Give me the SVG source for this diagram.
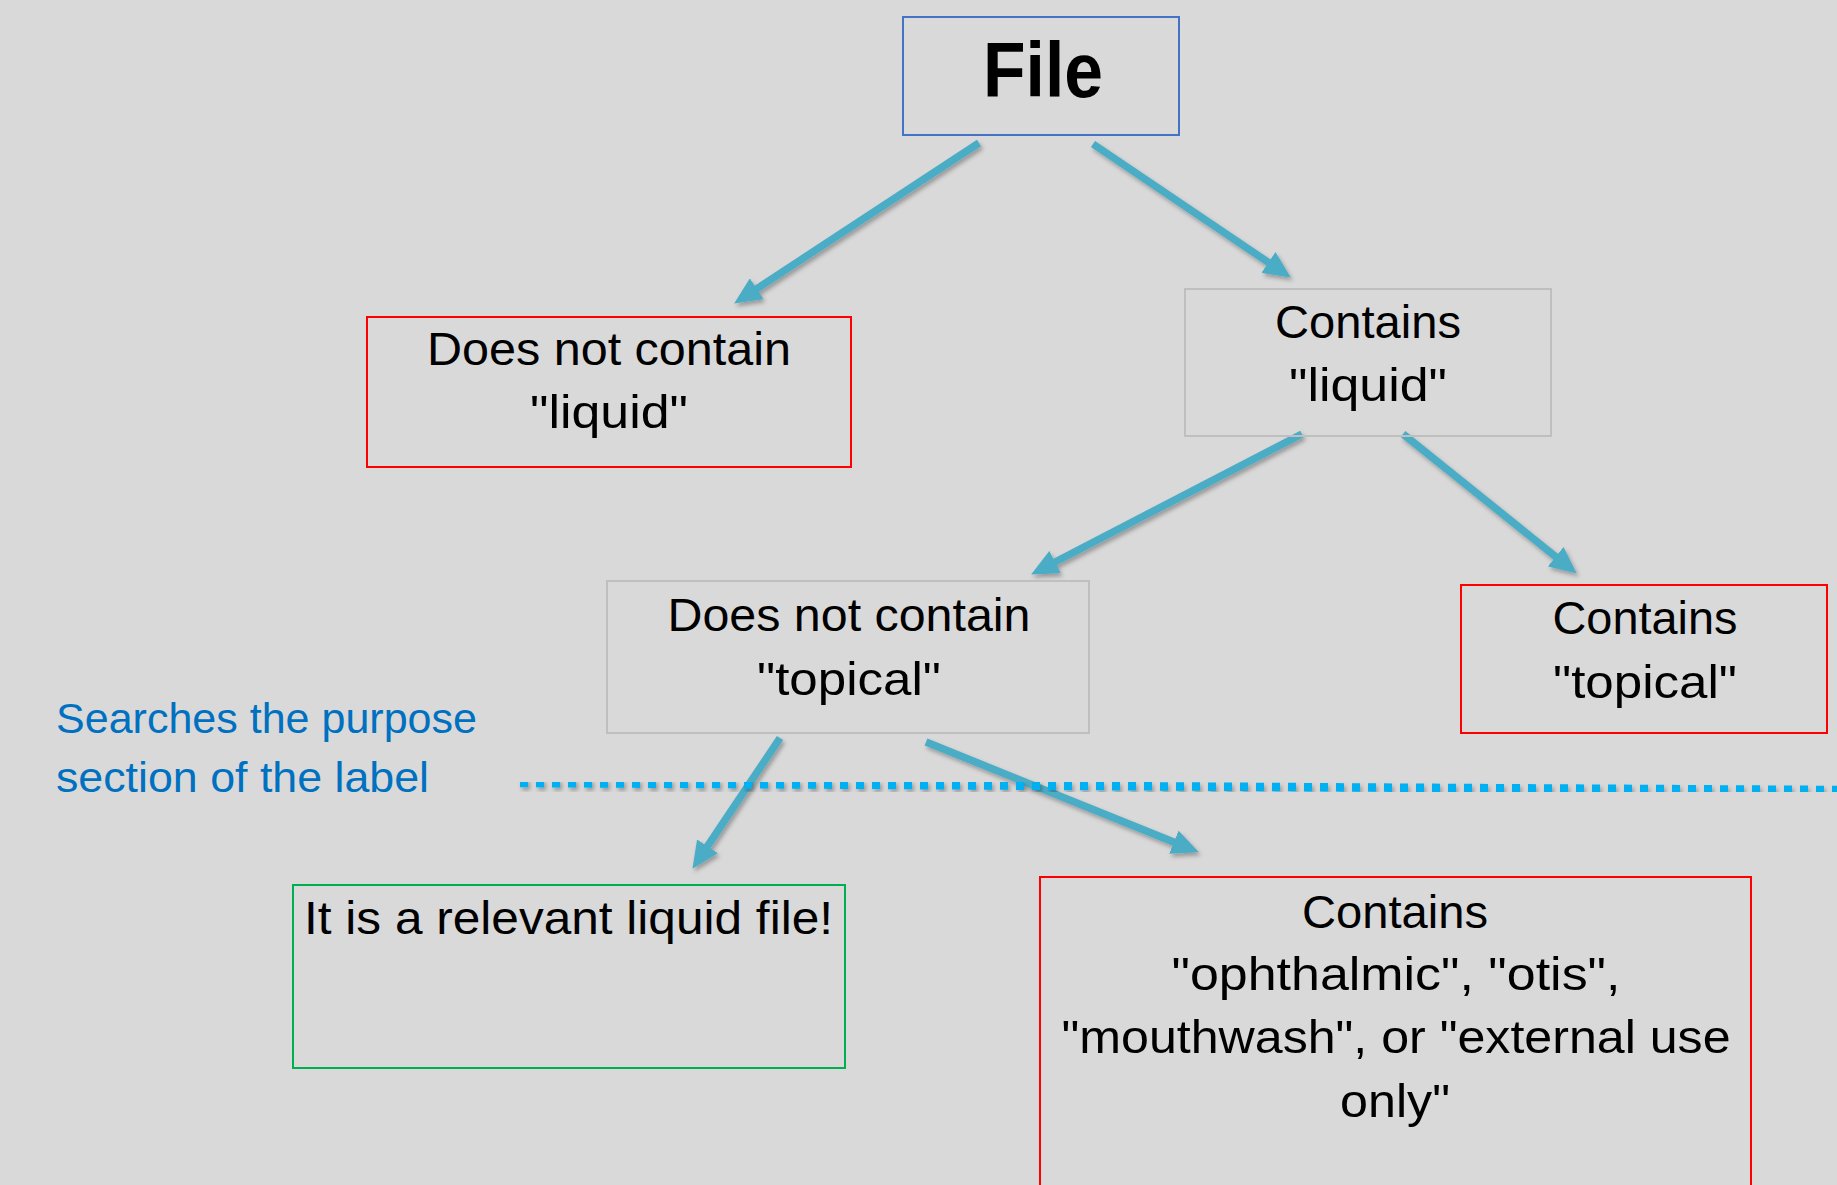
<svg xmlns="http://www.w3.org/2000/svg" width="1837" height="1185" viewBox="0 0 1837 1185">
  <style>
    .box { fill: none; }
    .red { stroke: #FF0000; stroke-width: 2; }
    .gray { stroke: #BFBFBF; stroke-width: 2; }
    .blue { stroke: #4472C4; stroke-width: 2; }
    .green { stroke: #00B050; stroke-width: 2; }
    .t { font-family: "Liberation Sans", Arial, sans-serif; font-size: 46px; fill: #000000; }
    .c { text-anchor: middle; }
    .lbl { font-family: "Liberation Sans", Arial, sans-serif; font-size: 42px; fill: #0070C0; }
    .conn { stroke: #4BACC6; stroke-width: 7.5; fill: none; marker-end: url(#head); }
  </style>
  <defs>
    <marker id="head" markerUnits="userSpaceOnUse" markerWidth="27" markerHeight="25" viewBox="0 0 27 25" refX="1" refY="12.5" orient="auto">
      <path d="M0,0 L27,12.5 L0,25 z" fill="#4BACC6"/>
    </marker>
    <filter id="shadow" x="-10%" y="-10%" width="120%" height="130%">
      <feDropShadow dx="2" dy="3" stdDeviation="2" flood-color="#000000" flood-opacity="0.3"/>
    </filter>
  </defs>
  <rect width="1837" height="1185" fill="#D9D9D9"/>

  <g id="connectors" filter="url(#shadow)">
    <line class="conn" x1="979" y1="143" x2="755.9" y2="289.3"/>
    <line class="conn" x1="1093" y1="144" x2="1269.3" y2="263"/>
    <line class="conn" x1="1302" y1="434" x2="1054.2" y2="562.5"/>
    <line class="conn" x1="1403" y1="434" x2="1556.5" y2="557.3"/>
    <line class="conn" x1="780" y1="738" x2="706.9" y2="847.2"/>
    <line class="conn" x1="926" y1="742" x2="1174.8" y2="842.6"/>
  </g>

  <g id="divider" filter="url(#shadow)">
    <line x1="520" y1="783" x2="1837" y2="790" stroke="#00B0F0" stroke-width="8.5" stroke-dasharray="8 8"/>
  </g>

  <g id="label">
    <text class="lbl" x="56" y="733" textLength="421" lengthAdjust="spacingAndGlyphs">Searches the purpose</text>
    <text class="lbl" x="56" y="792" textLength="373" lengthAdjust="spacingAndGlyphs">section of the label</text>
  </g>

  <g id="node-file">
    <rect class="box blue" x="903" y="17" width="276" height="118"/>
    <text x="1043" y="97" text-anchor="middle" font-family="'Liberation Sans', Arial, sans-serif" font-weight="bold" font-size="78" textLength="120" lengthAdjust="spacingAndGlyphs">File</text>
  </g>

  <g id="node-not-liquid">
    <rect class="box red" x="367" y="317" width="484" height="150"/>
    <text class="t c" x="609" y="365" textLength="364" lengthAdjust="spacingAndGlyphs">Does not contain</text>
    <text class="t c" x="609" y="428" textLength="158" lengthAdjust="spacingAndGlyphs">"liquid"</text>
  </g>

  <g id="node-liquid">
    <rect class="box gray" x="1185" y="289" width="366" height="147"/>
    <text class="t c" x="1368" y="338" textLength="186" lengthAdjust="spacingAndGlyphs">Contains</text>
    <text class="t c" x="1368" y="401" textLength="158" lengthAdjust="spacingAndGlyphs">"liquid"</text>
  </g>

  <g id="node-not-topical">
    <rect class="box gray" x="607" y="581" width="482" height="152"/>
    <text class="t c" x="849" y="631" textLength="363" lengthAdjust="spacingAndGlyphs">Does not contain</text>
    <text class="t c" x="849" y="695" textLength="184" lengthAdjust="spacingAndGlyphs">"topical"</text>
  </g>

  <g id="node-topical">
    <rect class="box red" x="1461" y="585" width="366" height="148"/>
    <text class="t c" x="1645" y="634" textLength="185" lengthAdjust="spacingAndGlyphs">Contains</text>
    <text class="t c" x="1645" y="698" textLength="184" lengthAdjust="spacingAndGlyphs">"topical"</text>
  </g>

  <g id="node-relevant">
    <rect class="box green" x="293" y="885" width="552" height="183"/>
    <text class="t" x="304" y="934" textLength="529" lengthAdjust="spacingAndGlyphs">It is a relevant liquid file!</text>
  </g>

  <g id="node-excluded">
    <rect class="box red" x="1040" y="877" width="711" height="330"/>
    <text class="t c" x="1395" y="928" textLength="186" lengthAdjust="spacingAndGlyphs">Contains</text>
    <text class="t c" x="1396" y="990" textLength="449" lengthAdjust="spacingAndGlyphs">"ophthalmic", "otis",</text>
    <text class="t c" x="1396" y="1053" textLength="669" lengthAdjust="spacingAndGlyphs">"mouthwash", or "external use</text>
    <text class="t c" x="1395" y="1117" textLength="110" lengthAdjust="spacingAndGlyphs">only"</text>
  </g>
</svg>
